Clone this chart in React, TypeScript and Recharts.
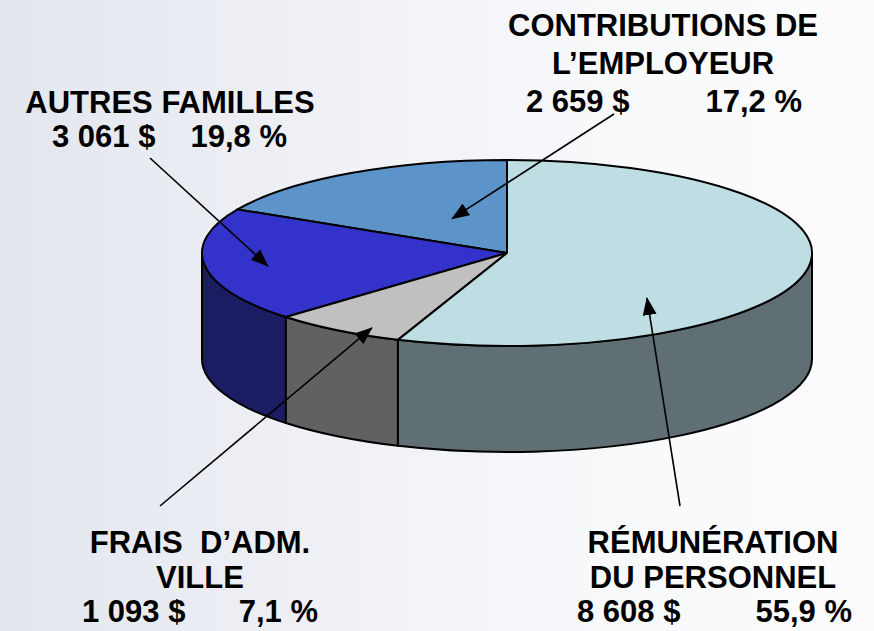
import React from 'react';
import { PieChart, Pie, Cell } from 'recharts';

// data
const categories = [
  'CONTRIBUTIONS DE L’EMPLOYEUR',
  'AUTRES FAMILLES',
  'FRAIS D’ADM. VILLE',
  'RÉMUNÉRATION DU PERSONNEL',
];
const labelLines = [
  ['CONTRIBUTIONS DE', 'L’EMPLOYEUR'],
  ['AUTRES FAMILLES'],
  ['FRAIS  D’ADM.', 'VILLE'],
  ['RÉMUNÉRATION', 'DU PERSONNEL'],
];
const amounts = [2659, 3061, 1093, 8608];
const percents = [17.2, 19.8, 7.1, 55.9];

// styles
const topColors = ['#5c93c8', '#3333cc', '#c0c0c0', '#bedee3'];
const sideColors = ['#3a5f82', '#1c1c63', '#616161', '#5f6f73'];

const RY_RATIO = 93 / 305;
const DEPTH = 106;
const FONT = '"Liberation Sans", Arial, sans-serif';

// label placement (text anchors + arrow start, tip given in pie radii)
const labelLayout = [
  { x: 663, lines: [36, 74], valueY: 112, valueX: 526, pctX: 802, from: [614, 114], tip: [-0.18, -0.37] },
  { x: 170, lines: [113], valueY: 147, valueX: 52, pctX: 287, from: [150, 158], tip: [-0.784, 0.14] },
  { x: 200, lines: [553, 588], valueY: 622, valueX: 82, pctX: 318, from: [160, 506], tip: [-0.443, 0.806] },
  { x: 713, lines: [553, 588], valueY: 622, valueX: 577, pctX: 852, from: [680, 506], tip: [0.459, 0.484] },
];

const chartData = categories.map((name, i) => ({ name, value: amounts[i] }));

const fmtAmount = (n: number) => String(n).replace(/\B(?=(\d{3})+(?!\d))/g, ' ') + ' $';
const fmtPct = (p: number) => p.toFixed(1).replace('.', ',') + ' %';

const pt = (cx: number, cy: number, rx: number, ry: number, deg: number, dy = 0) => {
  const r = (deg * Math.PI) / 180;
  return [cx + rx * Math.cos(r), cy - ry * Math.sin(r) + dy];
};

const Slice3D = (props: any) => {
  const { cx, cy, outerRadius, startAngle, endAngle, fill } = props;
  const name = props.payload?.name ?? props.name;
  const idx = categories.indexOf(name);
  const rx = outerRadius;
  const ry = outerRadius * RY_RATIO;
  const s = Math.min(startAngle, endAngle);
  const e = Math.max(startAngle, endAngle);

  const [x1, y1] = pt(cx, cy, rx, ry, s);
  const [x2, y2] = pt(cx, cy, rx, ry, e);
  const large = e - s > 180 ? 1 : 0;
  const top = `M${cx},${cy} L${x1},${y1} A${rx},${ry} 0 ${large} 0 ${x2},${y2} Z`;

  // front wall: visible part lies between 180 and 360 deg
  const a1 = Math.max(s, 180);
  const a2 = Math.min(e, 360);
  let side = null;
  if (a2 > a1) {
    const [sx1, sy1] = pt(cx, cy, rx, ry, a1);
    const [sx2, sy2] = pt(cx, cy, rx, ry, a2);
    const d = `M${sx1},${sy1} A${rx},${ry} 0 0 0 ${sx2},${sy2} L${sx2},${sy2 + DEPTH} A${rx},${ry} 0 0 1 ${sx1},${sy1 + DEPTH} Z`;
    side = <path d={d} fill={sideColors[idx]} stroke="#000" strokeWidth={2} strokeLinejoin="round" />;
  }

  return (
    <g>
      {side}
      <path d={top} fill={fill} stroke="#000" strokeWidth={2} strokeLinejoin="round" />
    </g>
  );
};

const SliceLabel = (props: any) => {
  const { cx, cy, outerRadius } = props;
  const name = props.payload?.name ?? props.name;
  const i = categories.indexOf(name);
  const l = labelLayout[i];
  const rx = outerRadius;
  const ry = outerRadius * RY_RATIO;
  const tx = cx + l.tip[0] * rx;
  const ty = cy + l.tip[1] * ry;
  return (
    <g>
      <line x1={l.from[0]} y1={l.from[1]} x2={tx} y2={ty} stroke="#000" strokeWidth={1.6} markerEnd="url(#arrowHead)" />
      {labelLines[i].map((t, k) => (
        <text key={k} x={l.x} y={l.lines[k]} textAnchor="middle" fontFamily={FONT} fontWeight="bold" fontSize={31} fill="#000" style={{ whiteSpace: 'pre' }}>
          {t}
        </text>
      ))}
      <text x={l.valueX} y={l.valueY} textAnchor="start" fontFamily={FONT} fontWeight="bold" fontSize={31} fill="#000">
        {fmtAmount(amounts[i])}
      </text>
      <text x={l.pctX} y={l.valueY} textAnchor="end" fontFamily={FONT} fontWeight="bold" fontSize={31} fill="#000">
        {fmtPct(percents[i])}
      </text>
    </g>
  );
};

export default function App() {
  return (
    <div
      style={{
        position: 'absolute',
        left: 0,
        top: 0,
        width: 874,
        height: 631,
        overflow: 'hidden',
        background: 'linear-gradient(90deg, #e3e6ee 0%, #eef0f5 35%, #f8f9fb 70%, #fcfcfd 100%)',
      }}
    >
      <PieChart width={874} height={631} margin={{ top: 0, right: 0, bottom: 0, left: 0 }}>
        <defs>
          <marker id="arrowHead" markerUnits="userSpaceOnUse" markerWidth={18} markerHeight={14} refX={17} refY={7} orient="auto">
            <path d="M0,0 L18,7 L0,14 Z" fill="#000" />
          </marker>
        </defs>
        <Pie
          data={chartData}
          dataKey="value"
          nameKey="name"
          cx={507}
          cy={253}
          outerRadius={305}
          startAngle={90}
          endAngle={450}
          shape={Slice3D}
          label={SliceLabel}
          labelLine={false}
          isAnimationActive={false}
        >
          {chartData.map((d, i) => (
            <Cell key={d.name} fill={topColors[i]} />
          ))}
        </Pie>
      </PieChart>
    </div>
  );
}
